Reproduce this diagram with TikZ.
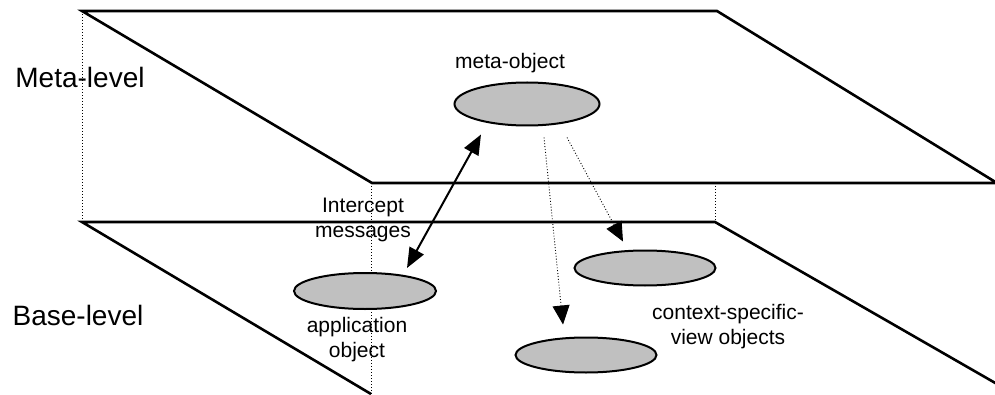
\documentclass[tikz,border=0pt]{standalone}
\usepackage{fontspec}
\setmainfont{Liberation Sans}
\usepackage{tikz}
\usetikzlibrary{calc}
\usetikzlibrary{positioning}
\usetikzlibrary{shapes.geometric}
\usetikzlibrary{arrows.meta}

\begin{document}
\begin{tikzpicture}[x=1pt, y=1pt,
		plane/.style={line width=2.6pt, line join=miter},
		guide/.style={line width=1pt, dotted},
		obj/.style={ellipse, draw, line width=2pt, fill={rgb,255:red,192;green,192;blue,192}, inner sep=0pt},
		lbl/.style={align=center, font=\fontsize{21}{25}\selectfont},
		lvl/.style={font=\fontsize{28}{33}\selectfont}]
				\useasboundingbox (0,0) rectangle (995,394);
				
				% the two planes
				\draw[plane] (82,383) -- (717,383) -- (997,211) -- (372,211) -- cycle;
				\draw[plane] (371,0) -- (82,172) -- (715,172) -- (997,10);
				\draw[guide] (82,383) -- (82,172);
				\draw[guide] (371,211) -- (371,0);
				\draw[guide] (715,211) -- (715,172);
				
				\node[lvl] (ML) at (80,317) {Meta-level};
				\node[lvl] (BL) at (78,79) {Base-level};
				
				\node[obj, minimum width=145pt, minimum height=43pt] (meta) at (527,290) {};
				\node[obj, minimum width=142pt, minimum height=36pt] (app) at (365,103) {};
				\node[obj, minimum width=141pt, minimum height=35pt] (ctxa) at (645,126) {};
				\node[obj, minimum width=141pt, minimum height=35pt] (ctxb) at (586,39) {};
				
				\node[lbl] (metaL) at (510,331) {meta-object};
				\node[lbl] (icpt) at (363,174) {Intercept\\messages};
				\node[lbl] (appL) at (357,54) {application\\object};
				\node[lbl] (ctxL) at (728,67) {context-specific-\\view objects};
				
				\draw[line width=2pt, {Triangle[length=20pt,width=16pt]}-{Triangle[length=20pt,width=16pt]}]
					($(app.north)+(42,4)$) -- ($(meta.south)+(-46,-8)$);
				\draw[line width=0.9pt, dotted, -{Triangle[length=19pt,width=17pt]}]
					($(meta.south)+(17,-11)$) -- ($(ctxb.north)+(-23,12)$);
				\draw[line width=0.9pt, dotted, -{Triangle[length=19pt,width=17pt]}]
					($(meta.south)+(40,-11)$) -- ($(ctxa.north)+(-22,8)$);
\end{tikzpicture}
\end{document}
